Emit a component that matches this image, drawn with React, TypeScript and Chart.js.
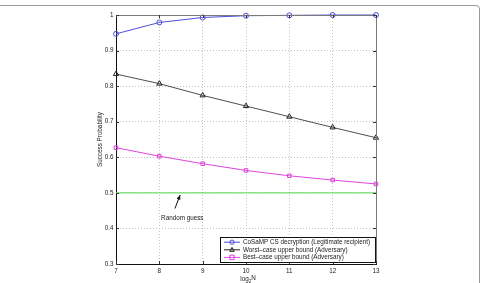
import React, { useEffect, useRef } from 'react';
import { Chart, registerables } from 'chart.js';

Chart.register(...registerables);

// log2 of the signal length
const logN = [7, 8, 9, 10, 11, 12, 13];
// success probability of each scheme
const cosampSuccess = [0.947, 0.979, 0.993, 0.998, 0.999, 1.0, 1.0];
const worstCaseBound = [0.834, 0.807, 0.774, 0.744, 0.714, 0.684, 0.655];
const bestCaseBound = [0.627, 0.603, 0.582, 0.563, 0.548, 0.536, 0.525];
// coin-flip reference
const randomGuessX = [7, 13];
const randomGuessY = [0.5, 0.5];

const seriesLabels = [
  'CoSaMP CS decryption (Legitimate recipient)',
  'Worst\u2013case upper bound (Adversary)',
  'Best\u2013case upper bound (Adversary)',
];
const xTicks = [7, 8, 9, 10, 11, 12, 13];
const yTicks = [0.3, 0.4, 0.5, 0.6, 0.7, 0.8, 0.9, 1];
const yTickLabels = ['0.3', '0.4', '0.5', '0.6', '0.7', '0.8', '0.9', '1'];
const yTitle = 'Success Probability';
const annotationText = 'Random guess';

const FONT = '"Liberation Sans", Arial, sans-serif';
const FS = 6.3;
const BLUE = '#4f4fdc';
const BLACK = '#222222';
const MAGENTA = '#dc45dc';
const GREEN = '#70de70';

const toPoints = (xs: number[], ys: number[]) => xs.map((x, i) => ({ x, y: ys[i] }));

function drawMarker(ctx: CanvasRenderingContext2D, style: string, x: number, y: number, r: number) {
  ctx.beginPath();
  if (style === 'circle') {
    ctx.arc(x, y, r, 0, Math.PI * 2);
  } else if (style === 'triangle') {
    ctx.moveTo(x, y - r * 1.1);
    ctx.lineTo(x + r, y + r * 0.7);
    ctx.lineTo(x - r, y + r * 0.7);
    ctx.closePath();
  } else {
    ctx.rect(x - r, y - r, r * 2, r * 2);
  }
  ctx.stroke();
}

// outer frame, box edges, inward ticks, titles, annotation and legend
const decorations = {
  id: 'decorations',
  beforeDraw(chart: any) {
    const { ctx } = chart;
    ctx.save();
    ctx.fillStyle = '#ffffff';
    ctx.fillRect(0, 0, chart.width, chart.height);
    ctx.strokeStyle = '#9a9a9a';
    ctx.lineWidth = 1;
    ctx.beginPath();
    ctx.moveTo(0, 5.5);
    ctx.lineTo(476, 5.5);
    ctx.arcTo(479.5, 5.5, 479.5, 9, 3.5);
    ctx.lineTo(479.5, chart.height);
    ctx.stroke();
    ctx.restore();
  },
  afterDraw(chart: any) {
    const { ctx, chartArea: a, scales } = chart;
    const xs = scales.x;
    const ys = scales.y;
    ctx.save();

    // top and right box edges
    ctx.strokeStyle = '#7a7a7a';
    ctx.lineWidth = 1;
    ctx.beginPath();
    ctx.moveTo(a.left, a.top + 0.5);
    ctx.lineTo(a.right + 0.5, a.top + 0.5);
    ctx.lineTo(a.right + 0.5, a.bottom);
    ctx.stroke();

    // inward tick marks on all four sides
    ctx.strokeStyle = '#333333';
    ctx.beginPath();
    xTicks.forEach((v) => {
      const px = Math.round(xs.getPixelForValue(v)) + 0.5;
      ctx.moveTo(px, a.bottom);
      ctx.lineTo(px, a.bottom - 3);
      ctx.moveTo(px, a.top);
      ctx.lineTo(px, a.top + 3);
    });
    yTicks.forEach((v) => {
      const py = Math.round(ys.getPixelForValue(v)) + 0.5;
      ctx.moveTo(a.left, py);
      ctx.lineTo(a.left + 3, py);
      ctx.moveTo(a.right, py);
      ctx.lineTo(a.right - 3, py);
    });
    ctx.stroke();

    // axis titles
    ctx.fillStyle = '#222222';
    ctx.font = `${FS}px ${FONT}`;
    ctx.textAlign = 'center';
    ctx.textBaseline = 'middle';
    ctx.save();
    ctx.translate(a.left - 16, (a.top + a.bottom) / 2);
    ctx.rotate(-Math.PI / 2);
    ctx.fillText(yTitle, 0, 0);
    ctx.restore();

    const cx = (a.left + a.right) / 2 + 2;
    ctx.textAlign = 'left';
    ctx.textBaseline = 'alphabetic';
    const wLog = ctx.measureText('log').width;
    ctx.font = `4.5px ${FONT}`;
    const w2 = ctx.measureText('2').width;
    ctx.font = `${FS}px ${FONT}`;
    const wN = ctx.measureText('N').width;
    const start = cx - (wLog + w2 + wN) / 2;
    const base = a.bottom + 17;
    ctx.fillText('log', start, base);
    ctx.font = `4.5px ${FONT}`;
    ctx.fillText('2', start + wLog, base + 2);
    ctx.font = `${FS}px ${FONT}`;
    ctx.fillText('N', start + wLog + w2, base - 1);

    // "Random guess" annotation with arrow
    ctx.textBaseline = 'middle';
    const tx = xs.getPixelForValue(8.53);
    const tyA = ys.getPixelForValue(0.428);
    ctx.textAlign = 'center';
    ctx.fillText(annotationText, tx, tyA);
    const x0 = xs.getPixelForValue(8.36);
    const y0 = ys.getPixelForValue(0.456);
    const x1 = xs.getPixelForValue(8.48);
    const y1 = ys.getPixelForValue(0.494);
    const ang = Math.atan2(y1 - y0, x1 - x0);
    ctx.strokeStyle = '#111111';
    ctx.fillStyle = '#111111';
    ctx.beginPath();
    ctx.moveTo(x0, y0);
    ctx.lineTo(x1, y1);
    ctx.stroke();
    ctx.beginPath();
    ctx.moveTo(x1, y1);
    ctx.lineTo(x1 - 5 * Math.cos(ang - 0.4), y1 - 5 * Math.sin(ang - 0.4));
    ctx.lineTo(x1 - 5 * Math.cos(ang + 0.4), y1 - 5 * Math.sin(ang + 0.4));
    ctx.closePath();
    ctx.fill();

    // legend box in the lower right corner of the plot
    const boxR = a.right - 0.5;
    const boxB = a.bottom - 1.5;
    const boxL = boxR - 155;
    const boxT = boxB - 25;
    ctx.fillStyle = '#ffffff';
    ctx.fillRect(boxL, boxT, boxR - boxL, boxB - boxT);
    ctx.strokeStyle = '#111111';
    ctx.strokeRect(boxL, boxT, boxR - boxL, boxB - boxT);
    const colors = [BLUE, BLACK, MAGENTA];
    const styles = ['circle', 'triangle', 'rect'];
    ctx.font = `${FS}px ${FONT}`;
    ctx.textAlign = 'left';
    ctx.textBaseline = 'middle';
    seriesLabels.forEach((label, i) => {
      const ry = boxT + 4.7 + i * 7.6;
      ctx.strokeStyle = colors[i];
      ctx.beginPath();
      ctx.moveTo(boxL + 3.5, ry);
      ctx.lineTo(boxL + 19.5, ry);
      ctx.stroke();
      drawMarker(ctx, styles[i], boxL + 11.5, ry, 2.2);
      ctx.fillStyle = '#222222';
      ctx.fillText(label, boxL + 22.5, ry);
    });

    ctx.restore();
  },
};

export default function App() {
  const canvasRef = useRef<HTMLCanvasElement | null>(null);

  useEffect(() => {
    document.body.style.margin = '0';
    const canvas = canvasRef.current;
    if (!canvas) return;
    const chart = new Chart(canvas, {
      type: 'line',
      data: {
        datasets: [
          {
            label: 'Random guess',
            data: toPoints(randomGuessX, randomGuessY),
            borderColor: GREEN,
            borderWidth: 1.3,
            pointRadius: 0,
            clip: 4,
          },
          {
            label: seriesLabels[0],
            data: toPoints(logN, cosampSuccess),
            borderColor: BLUE,
            backgroundColor: 'rgba(0,0,0,0)',
            borderWidth: 1,
            pointStyle: 'circle',
            pointRadius: 2.5,
            pointBorderWidth: 1,
            clip: 4,
          },
          {
            label: seriesLabels[1],
            data: toPoints(logN, worstCaseBound),
            borderColor: BLACK,
            backgroundColor: 'rgba(0,0,0,0)',
            borderWidth: 0.8,
            pointStyle: 'triangle',
            pointRadius: 3,
            pointBorderWidth: 1,
            clip: 4,
          },
          {
            label: seriesLabels[2],
            data: toPoints(logN, bestCaseBound),
            borderColor: MAGENTA,
            backgroundColor: 'rgba(0,0,0,0)',
            borderWidth: 1,
            pointStyle: 'rect',
            pointRadius: 2.5,
            pointBorderWidth: 1,
            clip: 4,
          },
        ],
      },
      options: {
        responsive: false,
        animation: false,
        devicePixelRatio: 1,
        layout: { padding: { left: 0, right: 105, top: 15, bottom: 0 } },
        plugins: {
          legend: { display: false },
          tooltip: { enabled: false },
        },
        scales: {
          x: {
            type: 'linear',
            min: 7,
            max: 13,
            afterBuildTicks: (s: any) => {
              s.ticks = xTicks.map((v) => ({ value: v }));
            },
            afterFit: (s: any) => {
              s.height = 19;
            },
            ticks: {
              color: '#222222',
              font: { family: FONT, size: FS },
              padding: 3,
              maxRotation: 0,
              callback: (v: any) => String(v),
            },
            grid: { color: '#c4c4c4', drawTicks: false, lineWidth: 1 },
            border: { color: '#111111', width: 1, dash: [1, 2] },
          },
          y: {
            type: 'linear',
            min: 0.3,
            max: 1,
            afterBuildTicks: (s: any) => {
              s.ticks = yTicks.map((v) => ({ value: v }));
            },
            afterFit: (s: any) => {
              s.width = 116;
            },
            ticks: {
              color: '#222222',
              font: { family: FONT, size: FS },
              padding: 2.5,
              callback: (_v: any, i: number) => yTickLabels[i],
            },
            grid: { color: '#c4c4c4', drawTicks: false, lineWidth: 1 },
            border: { color: '#111111', width: 1, dash: [1, 2] },
          },
        },
      },
      plugins: [decorations],
    });
    return () => chart.destroy();
  }, []);

  return (
    <div style={{ position: 'absolute', left: 0, top: 0, width: 481, height: 283 }}>
      <canvas ref={canvasRef} width={481} height={283} />
    </div>
  );
}
